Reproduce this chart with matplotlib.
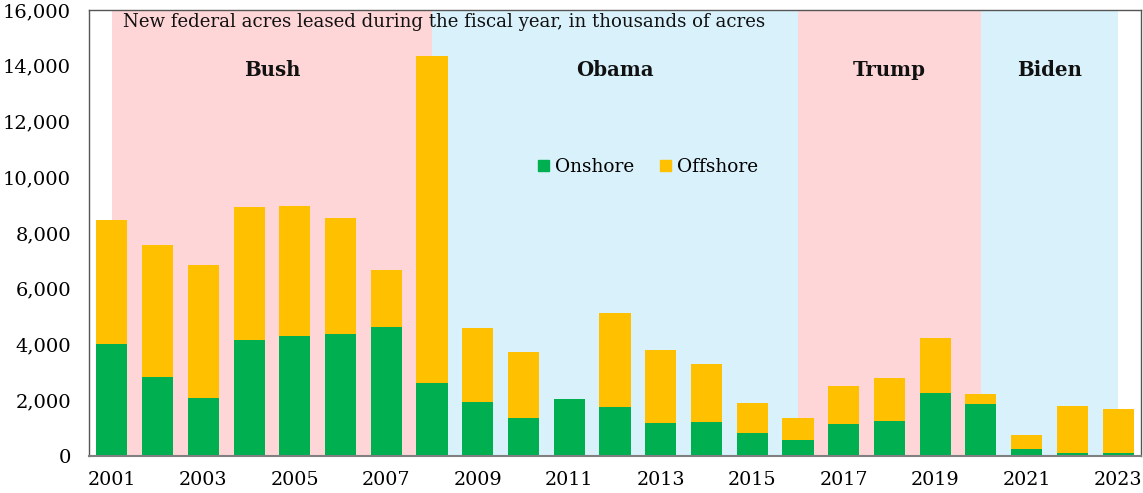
import matplotlib
matplotlib.use("Agg")
import matplotlib.pyplot as plt
from matplotlib.patches import Patch
import numpy as np

years = list(range(2001, 2024))
onshore = [4020, 2820, 2080, 4170, 4320, 4390, 4640, 2630, 1925, 1375, 2030, 1770,
           1185, 1220, 825, 585, 1135, 1265, 2260, 1875, 265, 95, 120]
totals = [8475, 7570, 6850, 8945, 8970, 8525, 6675, 14350, 4590, 3740, 2030, 5140,
          3800, 3300, 1900, 1365, 2500, 2810, 4245, 2235, 755, 1805, 1685]
offshore = [t - o for t, o in zip(totals, onshore)]

# presidencies: (label, start index, end index, color)
periods = [("Bush", 0, 7, "#FFD6D8"), ("Obama", 7, 15, "#D8F1FB"),
           ("Trump", 15, 19, "#FFD6D8"), ("Biden", 19, 22, "#D8F1FB")]

title_text = "New federal acres leased during the fiscal year, in thousands of acres"

plt.rcParams['font.family'] = ['DejaVu Serif']

fig = plt.figure(figsize=(11.43, 4.93), dpi=100)
ax = fig.add_axes([89/1143, 37/493, 1052/1143, 446/493])

x = np.arange(len(years))
for name, s, e, c in periods:
    ax.axvspan(s, e, color=c, lw=0, zorder=0)
    ax.text((s + e) / 2, 13850, name, ha='center', va='center',
            fontsize=14.2, fontweight='bold', color='#111111')

ax.bar(x, onshore, width=0.68, color="#00B050", label="Onshore", zorder=2)
ax.bar(x, offshore, bottom=onshore, width=0.68, color="#FFC000", label="Offshore", zorder=2)

ax.set_xlim(-0.5, 22.5)
ax.set_ylim(0, 16000)
ax.set_yticks(range(0, 16001, 2000))
ax.set_yticklabels([f"{v:,}" for v in range(0, 16001, 2000)], fontsize=14)
ax.set_xticks(x[::2])
ax.set_xticklabels([str(y) for y in years[::2]], fontsize=13.8)
ax.tick_params(axis='both', length=0)
ax.tick_params(axis='x', pad=11)
ax.tick_params(axis='y', pad=13)
for sp in ax.spines.values():
    sp.set_color('#555555')
    sp.set_linewidth(1.0)
ax.spines['bottom'].set_color('#808080')
ax.spines['bottom'].set_linewidth(1.5)

ax.text((123 - 89) / 1052, (456 - 22) / 446, title_text, transform=ax.transAxes,
        ha='left', va='center', fontsize=13.1, color='#111111')

handles = [Patch(color="#00B050"), Patch(color="#FFC000")]
ax.legend(handles, ["Onshore", "Offshore"], loc='center',
          bbox_to_anchor=((648 - 89) / 1052, (456 - 167) / 446), ncol=2, frameon=False,
          fontsize=13.3, handlelength=0.6, handleheight=0.6, handletextpad=0.3,
          columnspacing=1.4)

fig.savefig("out.png", dpi=100)
